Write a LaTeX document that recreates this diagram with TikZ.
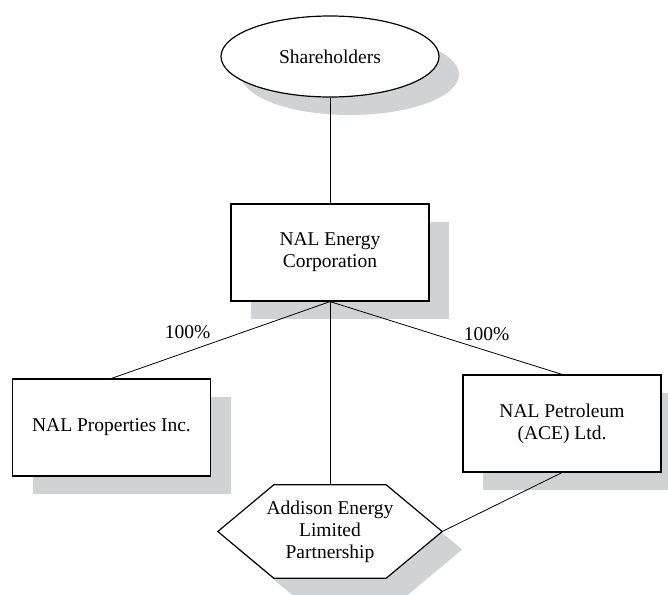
\documentclass[tikz,border=0pt]{standalone}
\usepackage{fontspec}
\setmainfont{Liberation Serif}
\usetikzlibrary{shapes.geometric,shadows,calc}
\definecolor{shadowgray}{RGB}{209,210,212}
\pgfdeclarelayer{background}
\pgfsetlayers{background,main}
\begin{document}
\begin{tikzpicture}[x=1pt,y=-1pt,
  every node/.style={font=\fontsize{19.5}{22}\selectfont, align=center, inner sep=0pt},
  shadowed/.style={drop shadow={shadow xshift=20pt, shadow yshift=-18pt, opacity=1, fill=shadowgray}},
  oval/.style={ellipse, draw, line width=1.2pt, fill=white, minimum width=218pt, minimum height=81pt, shadowed},
  box/.style={rectangle, draw, line width=1.2pt, fill=white, minimum width=198pt, minimum height=97pt, shadowed},
  conn/.style={line width=0.8pt},
  hexline/.style={line width=1.2pt, fill=white}
]
\useasboundingbox (0,0) rectangle (668,594);

\node[oval] (sh) at (330,56.5) {Shareholders};
\node[box] (nec) at (330,252.5) {NAL Energy\\Corporation};
\node[box] (npi) at (111.5,427.5) {NAL Properties Inc.};
\node[box] (npl) at (562,423.5) {NAL Petroleum\\(ACE) Ltd.};
\node[minimum width=224pt, minimum height=93pt] (aelp) at (330,531.5) {Addison Energy\\Limited\\Partnership};

\coordinate (hNW) at ($(aelp.north west)+(56,0)$);
\coordinate (hNE) at ($(aelp.north east)+(-56,0)$);
\coordinate (hSW) at ($(aelp.south west)+(56,0)$);
\coordinate (hSE) at ($(aelp.south east)+(-56,0)$);

\begin{pgfonlayer}{background}
  \fill[shadowgray] ($(aelp.west)+(20,18)$) -- ($(hNW)+(20,18)$) -- ($(hNE)+(20,18)$) -- ($(aelp.east)+(20,18)$) -- ($(hSE)+(20,18)$) -- ($(hSW)+(20,18)$) -- cycle;
  \draw[hexline] (aelp.west) -- (hNW) -- (hNE) -- (aelp.east) -- (hSE) -- (hSW) -- cycle;
\end{pgfonlayer}

\draw[conn] (sh.south) -- (nec.north);
\draw[conn] (nec.south) -- (npi.north);
\draw[conn] (nec.south) -- (npl.north);
\draw[conn] (nec.south) -- (aelp.north);
\draw[conn] (npl.south) -- (aelp.east);

\node (l1) at (187.5,332) {100\%};
\node (l2) at (486.5,334) {100\%};
\end{tikzpicture}
\end{document}
